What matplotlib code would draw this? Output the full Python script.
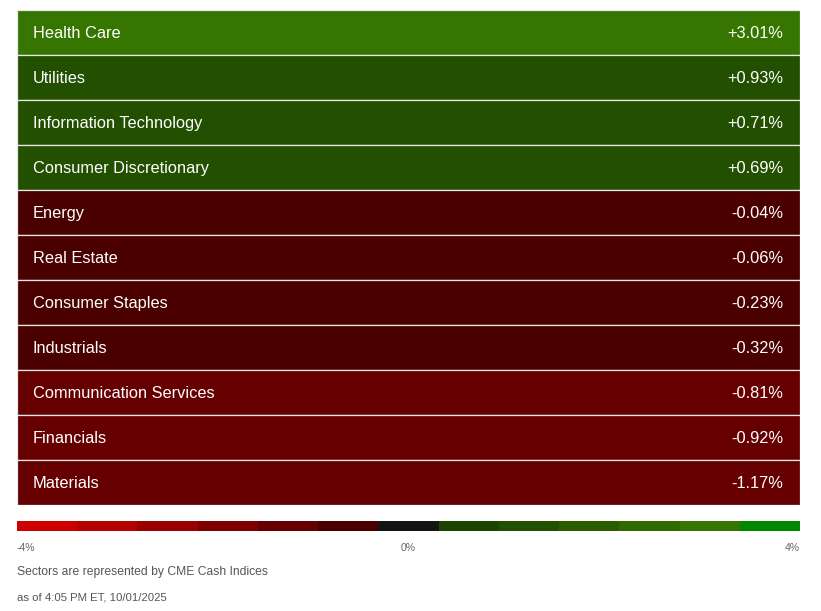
import matplotlib.pyplot as plt
import numpy as np

plt.rcParams['font.family'] = ['Liberation Sans', 'DejaVu Sans']

sectors = ["Health Care", "Utilities", "Information Technology", "Consumer Discretionary",
           "Energy", "Real Estate", "Consumer Staples", "Industrials",
           "Communication Services", "Financials", "Materials"]
changes = [3.01, 0.93, 0.71, 0.69, -0.04, -0.06, -0.23, -0.32, -0.81, -0.92, -1.17]

# colour scale, -4% .. 4%
scale_colors = ["#cc0000", "#b30000", "#9b0000", "#800000", "#660000", "#4b0000",
                "#141414",
                "#1d4300", "#225000", "#2a5d00", "#306b00", "#367600", "#008800"]
red_edges = [-4, -3.33, -2.67, -2.0, -1.33, -0.67, 0]
green_edges = [0, 0.67, 1.33, 2.0, 2.67, 3.33, 4]


def pick_color(v):
    if v < 0:
        i = np.digitize(v, red_edges) - 1
        return scale_colors[min(max(i, 0), 5)]
    if v > 0:
        i = np.digitize(v, green_edges) - 1
        return scale_colors[7 + min(max(i, 0), 5)]
    return scale_colors[6]


W, H = 821, 611
fig = plt.figure(figsize=(W / 100, H / 100), dpi=100)

# table of sectors
ax = fig.add_axes([17 / W, 1 - 505 / H, 783 / W, 495 / H])
rows = np.arange(len(sectors))
ax.barh(rows, 1, left=0, height=1, color=[pick_color(v) for v in changes],
        edgecolor="#e8e8e8", linewidth=0.9)
for r, name, v in zip(rows, sectors, changes):
    ax.text(16 / 783, r + 0.02, name, color="white", fontsize=11.8, va="center", ha="left")
    ax.text(766 / 783, r + 0.02, f"{v:+.2f}%", color="white", fontsize=11.8, va="center", ha="right")
ax.set_xlim(0, 1)
ax.set_ylim(len(sectors) - 0.5, -0.5)
ax.axis("off")

# colour scale bar
cax = fig.add_axes([17 / W, 1 - 531 / H, 783 / W, 10 / H])
n = len(scale_colors)
seg = 8 / n
cax.barh(0, seg, left=-4 + seg * np.arange(n), height=1, color=scale_colors, linewidth=0)
cax.set_xlim(-4, 4)
cax.set_ylim(-0.5, 0.5)
cax.axis("off")

fig.text(17 / W, 1 - 548 / H, "-4%", color="#666666", fontsize=7.5, va="center", ha="left")
fig.text(408 / W, 1 - 548 / H, "0%", color="#666666", fontsize=7.5, va="center", ha="center")
fig.text(800 / W, 1 - 548 / H, "4%", color="#666666", fontsize=7.5, va="center", ha="right")
fig.text(17 / W, 1 - 572 / H, "Sectors are represented by CME Cash Indices",
         color="#555555", fontsize=8.7, va="center", ha="left")
fig.text(17 / W, 1 - 597 / H, "as of 4:05 PM ET, 10/01/2025",
         color="#555555", fontsize=8.2, va="center", ha="left")

fig.savefig("out.png", dpi=100, facecolor="white")
